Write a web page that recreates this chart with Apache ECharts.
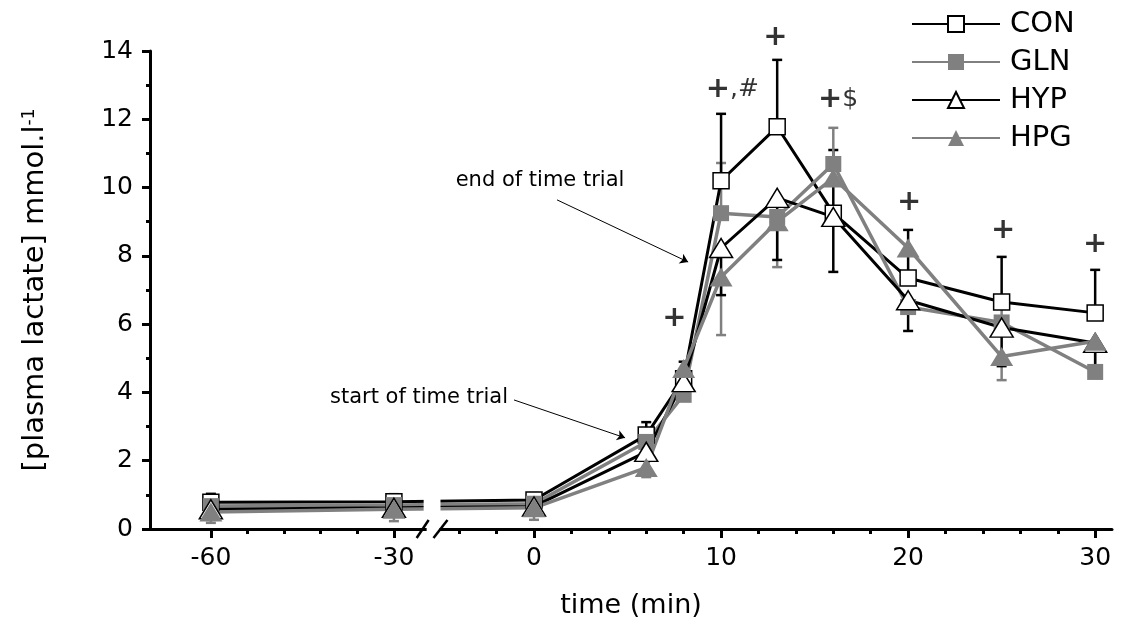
<!DOCTYPE html>
<html>
<head>
<meta charset="utf-8">
<script src="https://cdn.jsdelivr.net/npm/echarts@6/dist/echarts.min.js"></script>
<style>
  html, body { margin: 0; padding: 0; background: #fff; }
  #main { width: 1129px; height: 634px; }
</style>
</head>
<body>
<div id="main"></div>
<script>
// sampling times (min)
var times = [-60, -30, 0, 6, 8, 10, 13, 16, 20, 25, 30];

// plasma lactate, mmol/l
var con = [0.78, 0.80, 0.85, 2.75, 4.40, 10.20, 11.78, 9.25, 7.35, 6.65, 6.33];
var gln = [0.67, 0.70, 0.74, 2.55, 3.93, 9.25, 9.14, 10.69, 6.50, 6.05, 4.60];
var hyp = [0.58, 0.62, 0.66, 2.26, 4.30, 8.23, 9.70, 9.14, 6.70, 5.90, 5.45];
var hpg = [0.50, 0.58, 0.62, 1.80, 4.70, 7.38, 9.00, 10.28, 8.23, 5.05, 5.50];

// error bars (sign = direction drawn)
var conSd = [0.25, 0.22, 0.20, 0.38, 0.50, 1.96, 1.96, -1.72, 1.41, 1.32, 1.26];
var glnSd = [0, 0, 0, 0, -0.15, 1.47, 0, 1.06, 0, 0.57, 0];
var hypSd = [0, 0, 0, 0, -0.32, -1.38, -1.82, 1.96, -0.90, -1.13, -0.97];
var hpgSd = [-0.32, -0.35, -0.35, -0.28, 0, -1.70, -1.33, 0, 0, -0.69, -0.90];

// axis ticks
var majorTicks = [-60, -30, 0, 10, 20, 30];
var minorTicks = [-54, -48, -42, -36, -4, -2, 2, 4, 6, 8, 12, 14, 16, 18, 22, 24, 26, 28];

// significance marks
var sigTimes = [7.5, 10.6, 12.9, 16.26, 20.05, 25.08, 30];
var sigHeights = [6.18, 12.86, 14.41, 12.57, 9.55, 8.73, 8.32];
var sigLabels = ['+', '+,#', '+', '+$', '+', '+', '+'];

var BLACK = '#000';
var GREY = '#808080';
var FONT = 'DejaVu Sans, sans-serif';

// broken time axis: before the break one minute is about a third as wide
function pos(t) {
  return t > -12 ? t : -7.49 + (t + 30) * 0.3262;
}

function pts(vals) {
  return times.map(function (t, i) { return [pos(t), vals[i]]; });
}
function errPts(vals, sd) {
  return times.map(function (t, i) { return [pos(t), vals[i], sd[i]]; });
}

function errRender(color) {
  return function (params, api) {
    var sd = api.value(2);
    if (!sd) return;
    var p0 = api.coord([api.value(0), api.value(1)]);
    var p1 = api.coord([api.value(0), api.value(1) + sd]);
    var st = { stroke: color, lineWidth: 2.5 };
    return {
      type: 'group',
      children: [
        { type: 'line', shape: { x1: p0[0], y1: p0[1], x2: p1[0], y2: p1[1] }, style: st },
        { type: 'line', shape: { x1: p1[0] - 5, y1: p1[1], x2: p1[0] + 5, y2: p1[1] }, style: st }
      ]
    };
  };
}

function lineSeries(name, vals, color, symbol, size, fill) {
  return {
    name: name,
    type: 'line',
    data: pts(vals),
    symbol: symbol,
    symbolSize: size,
    showAllSymbol: true,
    z: 3,
    lineStyle: { color: color, width: color === BLACK ? 3 : 3.5 },
    itemStyle: { color: fill, borderColor: color === BLACK ? BLACK : GREY, borderWidth: color === BLACK ? 1.5 : 0, opacity: 1 },
    emphasis: { disabled: true }
  };
}

function errSeries(vals, sd, color) {
  return {
    type: 'custom',
    data: errPts(vals, sd),
    renderItem: errRender(color),
    z: 2,
    silent: true
  };
}

var chart = echarts.init(document.getElementById('main'));

var option = {
  animation: false,
  textStyle: { fontFamily: FONT },
  grid: { left: 150, right: 17, top: 51, bottom: 105 },
  legend: {
    orient: 'vertical',
    left: 906,
    top: 4,
    itemWidth: 88,
    itemHeight: 20,
    itemGap: 8,
    data: ['CON', 'GLN', 'HYP', 'HPG'],
    textStyle: { fontSize: 29, color: BLACK, fontFamily: FONT, lineHeight: 30, padding: [0, 0, 0, 5] }
  },
  xAxis: [{
    type: 'value',
    min: -20.53,
    max: 30.9,
    position: 'bottom',
    name: 'time (min)',
    nameLocation: 'middle',
    nameGap: 63,
    nameTextStyle: { fontSize: 27, color: BLACK, fontFamily: FONT },
    splitLine: { show: false },
    axisLine: { onZero: false, lineStyle: { color: BLACK, width: 3 } },
    axisTick: { length: 9, lineStyle: { color: BLACK, width: 3 }, customValues: majorTicks.map(pos) },
    axisLabel: {
      fontSize: 25, color: BLACK, margin: 17, fontFamily: FONT,
      customValues: majorTicks.map(pos),
      formatter: function (v) {
        for (var i = 0; i < majorTicks.length; i++) {
          if (Math.abs(pos(majorTicks[i]) - v) < 1e-6) return String(majorTicks[i]);
        }
        return '';
      }
    }
  }, {
    type: 'value',
    min: -20.53,
    max: 30.9,
    position: 'bottom',
    splitLine: { show: false },
    axisLine: { show: false, onZero: false },
    axisTick: { length: 5, lineStyle: { color: BLACK, width: 3 }, customValues: minorTicks.map(pos) },
    axisLabel: { show: false }
  }],
  yAxis: {
    type: 'value',
    min: 0,
    max: 14,
    interval: 2,
    name: '[plasma lactate] mmol.l{sup|-1}',
    nameLocation: 'middle',
    nameRotate: 90,
    nameGap: 100,
    nameTextStyle: {
      fontSize: 29, color: BLACK, fontFamily: FONT,
      rich: { sup: { fontSize: 17, verticalAlign: 'top', color: BLACK, fontFamily: FONT } }
    },
    splitLine: { show: false },
    axisLine: { show: true, onZero: false, lineStyle: { color: BLACK, width: 3 } },
    axisTick: { length: 8, lineStyle: { color: BLACK, width: 3 } },
    minorTick: { show: true, splitNumber: 2, length: 4, lineStyle: { color: BLACK, width: 3 } },
    axisLabel: { fontSize: 25, color: BLACK, margin: 17, fontFamily: FONT }
  },
  series: [
    errSeries(hpg, hpgSd, GREY),
    errSeries(hyp, hypSd, BLACK),
    errSeries(gln, glnSd, GREY),
    errSeries(con, conSd, BLACK),
    lineSeries('CON', con, BLACK, 'rect', 16, '#fff'),
    lineSeries('GLN', gln, GREY, 'rect', 16, GREY),
    lineSeries('HYP', hyp, BLACK, 'triangle', [23, 19], '#fff'),
    lineSeries('HPG', hpg, GREY, 'triangle', [23, 19], GREY),
    {
      type: 'scatter',
      data: sigTimes.map(function (t, i) { return [pos(t), sigHeights[i], sigLabels[i]]; }),
      symbolSize: 0,
      clip: false,
      silent: true,
      z: 5,
      label: {
        show: true,
        position: 'inside',
        color: BLACK,
        formatter: function (p) {
          var s = p.value[2];
          return '{b|+}' + (s.length > 1 ? '{r|' + s.slice(1) + '}' : '');
        },
        rich: {
          b: { fontSize: 29, fontWeight: 'bold', color: BLACK, fontFamily: FONT },
          r: { fontSize: 25, color: BLACK, fontFamily: FONT }
        }
      },
      markLine: {
        silent: true,
        symbol: ['none', 'arrow'],
        symbolSize: 8,
        label: { show: false },
        lineStyle: { color: BLACK, width: 1, type: 'solid' },
        data: [
          [{ coord: [pos(1.23), 9.64] }, { coord: [pos(8.24), 7.82] }],
          [{ coord: [pos(-1.07), 3.78] }, { coord: [pos(4.87), 2.67] }]
        ]
      },
      markPoint: {
        silent: true,
        symbolSize: 0,
        label: { show: true, color: BLACK, fontSize: 21, fontFamily: FONT, formatter: '{b}' },
        data: [
          { name: 'end of time trial', coord: [pos(0.32), 10.22], label: { position: 'inside' } },
          { name: 'start of time trial', coord: [pos(-1.39), 3.84], label: { position: 'left', distance: 0 } }
        ]
      }
    }
  ]
};

chart.setOption(option);

// axis break: gap in the curves and the "//" mark on the time axis
var breakLeft = pos(-5.9), breakRight = pos(-5.0);
var pl = chart.convertToPixel({ gridIndex: 0 }, [breakLeft, 1.25]);
var pr = chart.convertToPixel({ gridIndex: 0 }, [breakRight, 0.3]);
var axisY = chart.convertToPixel({ gridIndex: 0 }, [0, 0])[1];
chart.setOption({
  graphic: [
    { type: 'rect', z: 100, shape: { x: pl[0], y: pl[1], width: pr[0] - pl[0], height: pr[1] - pl[1] }, style: { fill: '#fff' } },
    { type: 'rect', z: 100, shape: { x: pl[0] + 3, y: axisY - 3, width: pr[0] - pl[0] - 4, height: 6 }, style: { fill: '#fff' } },
    { type: 'line', z: 101, shape: { x1: pl[0] - 7, y1: axisY + 9, x2: pl[0] + 5, y2: axisY - 9 }, style: { stroke: BLACK, lineWidth: 2.5 } },
    { type: 'line', z: 101, shape: { x1: pr[0] - 7, y1: axisY + 9, x2: pr[0] + 7, y2: axisY - 9 }, style: { stroke: BLACK, lineWidth: 2.5 } }
  ]
});

window.addEventListener('resize', chart.resize);
</script>
</body>
</html>
